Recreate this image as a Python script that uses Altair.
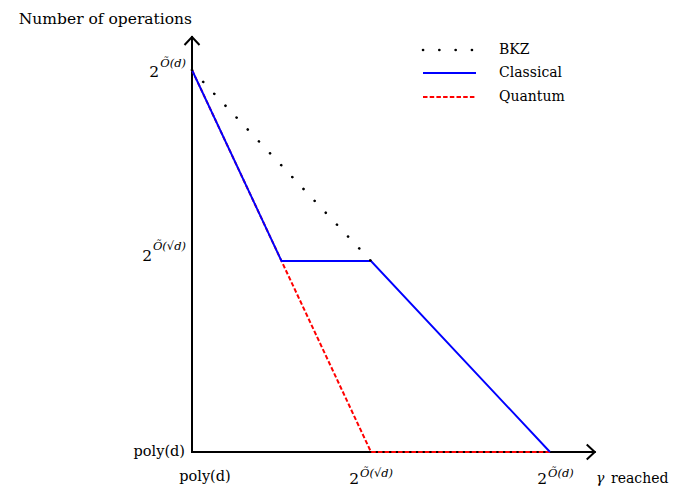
import altair as alt
import pandas as pd

# ---- data ----
series_names = ["BKZ", "Classical", "Quantum"]
series_colors = ["#000000", "#0000ff", "#ff0000"]

bkz_x = [0, 1]
bkz_y = [2, 1]
classical_x = [0, 0.5, 1, 2]
classical_y = [2, 1, 1, 0]
quantum_x = [0, 0.5, 1, 2]
quantum_y = [2, 1, 0, 0]

tick_values = [0, 1, 2]
tick_base = ["poly(d)", "2", "2"]
tick_sup = ["", "Õ(√d)", "Õ(d)"]

x_axis_end = 2.25
y_axis_end = 2.173

# ---- layout ----
W, H = 662, 480
FONT = "DejaVu Serif"
xs = alt.Scale(domain=[-184 / 179, (W - 184) / 179], nice=False, zero=False)
ys = alt.Scale(domain=[(444 - H) / 191, 444 / 191], nice=False, zero=False)


def X(f="x"):
    return alt.X(f"{f}:Q", scale=xs, axis=None)


def Y(f="y"):
    return alt.Y(f"{f}:Q", scale=ys, axis=None)


def series_line(xv, yv, color, **kw):
    df = pd.DataFrame({"x": xv, "y": yv, "o": list(range(len(xv)))})
    return alt.Chart(df).mark_line(color=color, **kw).encode(
        x=X(), y=Y(), order="o:Q")


def tick_text(xv, yv, text, dx, dy, size, align, italic=False):
    df = pd.DataFrame({"x": [xv], "y": [yv], "t": [text]})
    return alt.Chart(df).mark_text(
        align=align, baseline="alphabetic", dx=dx, dy=dy, font=FONT,
        fontSize=size, fontStyle="italic" if italic else "normal",
        color="black").encode(x=X(), y=Y(), text="t:N")


def px_text(px, py, text, size, align, italic=False, baseline="alphabetic"):
    df = pd.DataFrame({"t": [text]})
    return alt.Chart(df).mark_text(
        align=align, baseline=baseline, font=FONT, fontSize=size,
        fontStyle="italic" if italic else "normal", color="black").encode(
        x=alt.value(px), y=alt.value(py), text="t:N")


layers = []

# axes
ax_df = pd.DataFrame({"x": [0], "y": [0], "x2": [x_axis_end], "y2": [y_axis_end]})
layers.append(alt.Chart(ax_df).mark_rule(color="black", strokeWidth=2, strokeCap="square").encode(
    x=X(), y=Y(), y2="y2:Q"))
layers.append(alt.Chart(ax_df).mark_rule(color="black", strokeWidth=2, strokeCap="square").encode(
    x=X(), x2="x2:Q", y=Y()))
up_df = pd.DataFrame({"x": [0], "y": [y_axis_end]})
layers.append(alt.Chart(up_df).mark_point(
    shape="M-1,1.07L0,0L1,1.07", size=225, filled=False, stroke="black",
    strokeWidth=2, opacity=1).encode(x=X(), y=Y()))
rt_df = pd.DataFrame({"x": [x_axis_end], "y": [0]})
layers.append(alt.Chart(rt_df).mark_point(
    shape="M-1.07,-1L0,0L-1.07,1", size=225, filled=False, stroke="black",
    strokeWidth=2, opacity=1).encode(x=X(), y=Y()))

# series
dash_styles = [[0.1, 16.2], [1, 0], [4.5, 2.2]]
layers.append(series_line(quantum_x, quantum_y, series_colors[2], strokeWidth=2,
                          strokeDash=dash_styles[2]))
layers.append(series_line(classical_x, classical_y, series_colors[1], strokeWidth=1.9))
layers.append(series_line(bkz_x, bkz_y, series_colors[0], strokeWidth=2.6,
                          strokeDash=dash_styles[0], strokeCap="round"))

# y tick labels
layers.append(tick_text(0, tick_values[0], tick_base[0], -7, 4, 14.5, "right"))
layers.append(tick_text(0, tick_values[1], tick_base[1], -40, 0, 15.5, "right"))
layers.append(tick_text(0, tick_values[1], tick_sup[1], -6, -11, 11.5, "right", True))
layers.append(tick_text(0, tick_values[2], tick_base[2], -33, 7, 15.5, "right"))
layers.append(tick_text(0, tick_values[2], tick_sup[2], -6, -3, 11.5, "right", True))

# x tick labels
layers.append(tick_text(tick_values[0], 0, tick_base[0], 13, 29, 14.5, "center"))
layers.append(tick_text(tick_values[1], 0, tick_base[1], -12, 32, 15.5, "right"))
layers.append(tick_text(tick_values[1], 0, tick_sup[1], -11, 25, 11.5, "left", True))
layers.append(tick_text(tick_values[2], 0, tick_base[2], -3, 32, 15.5, "right"))
layers.append(tick_text(tick_values[2], 0, tick_sup[2], -2, 25, 11.5, "left", True))

# axis titles
layers.append(px_text(184, 16, "Number of operations", 15.5, "right"))
layers.append(px_text(588, 475, "γ", 14, "left", True))
layers.append(px_text(603, 475, "reached", 14, "left"))

# legend
leg_y = [42, 65, 89]
for i, name in enumerate(series_names):
    ldf = pd.DataFrame({"s": [name]})
    kw = {"strokeWidth": 2}
    if i == 0:
        kw = {"strokeWidth": 2.6, "strokeCap": "round"}
    layers.append(alt.Chart(ldf).mark_rule(
        color=series_colors[i], strokeDash=dash_styles[i], **kw).encode(
        x=alt.value(415), x2=alt.value(468), y=alt.value(leg_y[i])))
    layers.append(alt.Chart(ldf).mark_text(
        align="left", baseline="middle", font=FONT, fontSize=14, color="black").encode(
        x=alt.value(491), y=alt.value(leg_y[i]), text="s:N"))

chart = alt.layer(*layers).properties(
    width=W, height=H, padding=0,
    autosize=alt.AutoSizeParams(type="none"),
    background="white",
).configure_view(stroke=None)

chart.save("out.html", embed_options={"renderer": "svg", "actions": False})
